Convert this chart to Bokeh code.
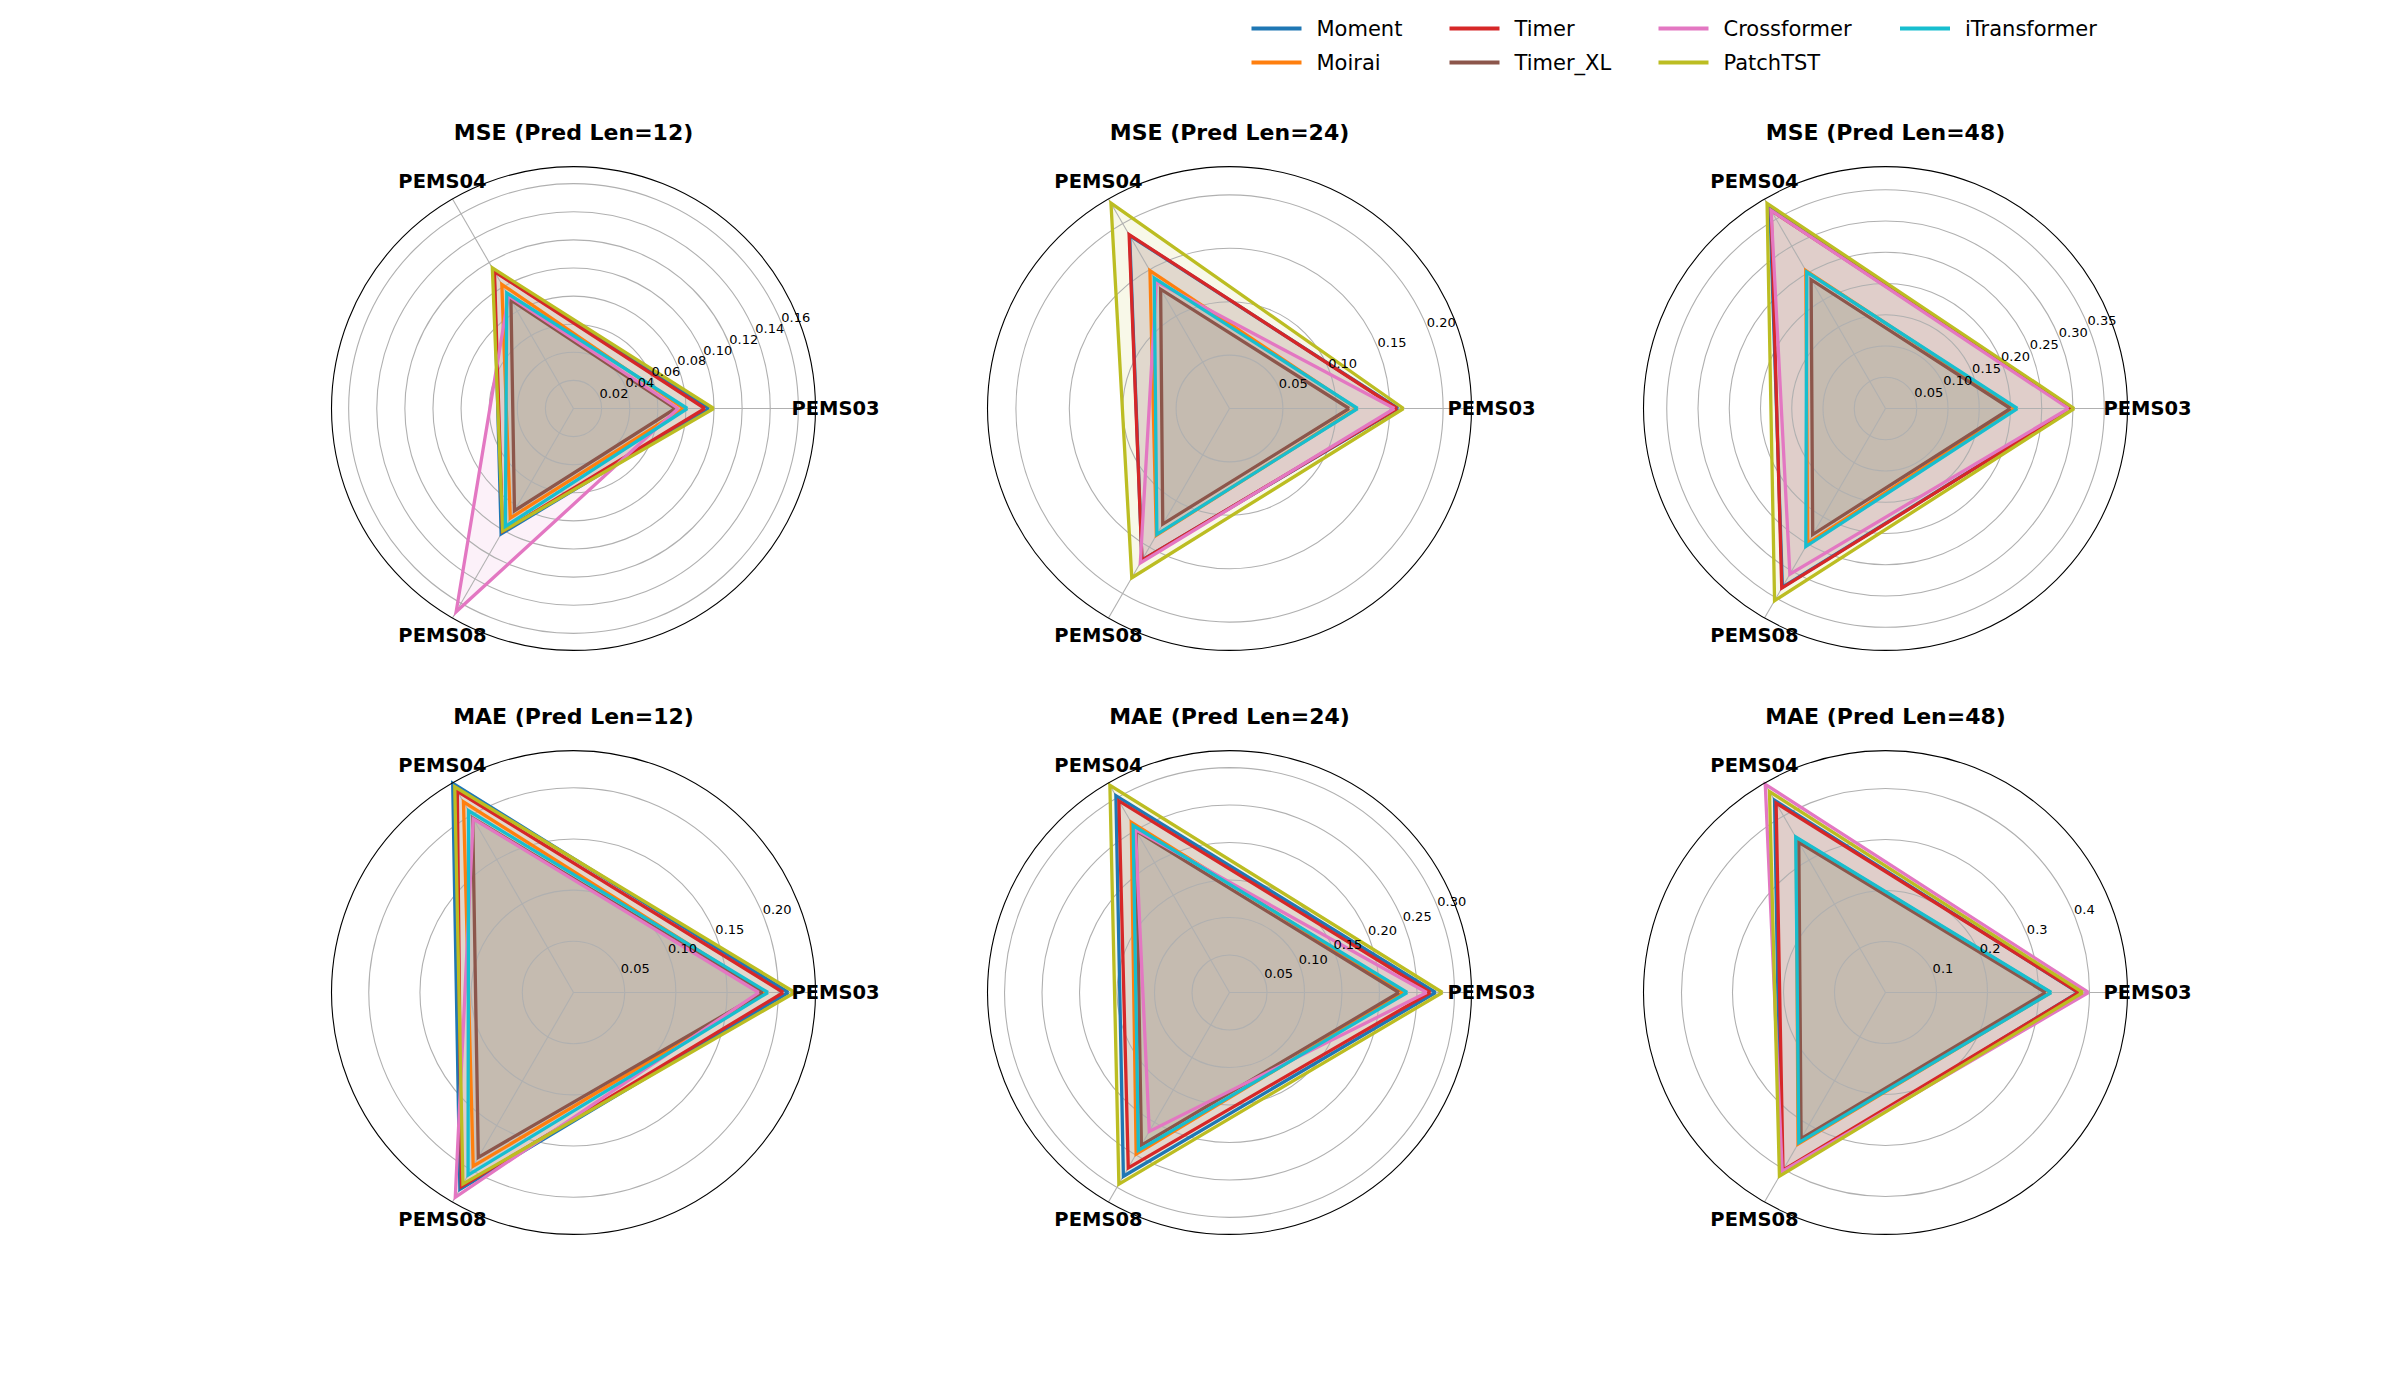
import numpy as np
from bokeh.plotting import figure
from bokeh.models import Range1d, Spacer
from bokeh.layouts import column, row
from bokeh.embed import file_html
from bokeh.resources import INLINE
from bokeh.core.properties import value

# ---------------- data ----------------
datasets = ["PEMS03", "PEMS04", "PEMS08"]
models = ["Moment", "Moirai", "Timer", "Timer_XL", "Crossformer", "PatchTST", "iTransformer"]
colors = ["#1f77b4", "#ff7f0e", "#d62728", "#8c564b", "#e377c2", "#bcbd22", "#17becf"]

# each row: one model (order as `models`), values for PEMS03, PEMS04, PEMS08
mse_12 = [
    [0.0965, 0.113, 0.103],
    [0.0785, 0.102, 0.090],
    [0.0935, 0.1125, 0.101],
    [0.0725, 0.089, 0.084],
    [0.0745, 0.0925, 0.167],
    [0.0998, 0.1155, 0.1007],
    [0.0810, 0.095, 0.097],
]
mse_24 = [
    [0.158, 0.187, 0.164],
    [0.119, 0.149, 0.137],
    [0.157, 0.188, 0.164],
    [0.112, 0.129, 0.125],
    [0.1545, 0.137, 0.167],
    [0.163, 0.222, 0.183],
    [0.120, 0.141, 0.136],
]
mse_48 = [
    [0.297, 0.370, 0.330],
    [0.207, 0.255, 0.249],
    [0.297, 0.366, 0.332],
    [0.200, 0.238, 0.233],
    [0.293, 0.366, 0.306],
    [0.302, 0.379, 0.355],
    [0.211, 0.252, 0.255],
]
mae_12 = [
    [0.210, 0.236, 0.222],
    [0.187, 0.215, 0.196],
    [0.205, 0.227, 0.219],
    [0.185, 0.197, 0.186],
    [0.181, 0.196, 0.231],
    [0.2163, 0.232, 0.216],
    [0.190, 0.205, 0.206],
]
mae_24 = [
    [0.275, 0.303, 0.283],
    [0.232, 0.262, 0.249],
    [0.268, 0.295, 0.270],
    [0.226, 0.249, 0.235],
    [0.263, 0.251, 0.214],
    [0.284, 0.319, 0.295],
    [0.237, 0.257, 0.243],
]
mae_48 = [
    [0.378, 0.435, 0.410],
    [0.324, 0.350, 0.343],
    [0.379, 0.429, 0.402],
    [0.314, 0.340, 0.331],
    [0.398, 0.4715, 0.405],
    [0.387, 0.455, 0.416],
    [0.325, 0.352, 0.340],
]

panel_titles = ["MSE (Pred Len=12)", "MSE (Pred Len=24)", "MSE (Pred Len=48)",
                "MAE (Pred Len=12)", "MAE (Pred Len=24)", "MAE (Pred Len=48)"]
panel_data = [mse_12, mse_24, mse_48, mae_12, mae_24, mae_48]
r_limits = [0.1722, 0.2266, 0.3872, 0.2364, 0.3227, 0.4745]
r_ticks = [
    [0.02, 0.04, 0.06, 0.08, 0.10, 0.12, 0.14, 0.16],
    [0.05, 0.10, 0.15, 0.20],
    [0.05, 0.10, 0.15, 0.20, 0.25, 0.30, 0.35],
    [0.05, 0.10, 0.15, 0.20],
    [0.05, 0.10, 0.15, 0.20, 0.25, 0.30],
    [0.1, 0.2, 0.3, 0.4],
]
r_tick_labels = [
    ["0.02", "0.04", "0.06", "0.08", "0.10", "0.12", "0.14", "0.16"],
    ["0.05", "0.10", "0.15", "0.20"],
    ["0.05", "0.10", "0.15", "0.20", "0.25", "0.30", "0.35"],
    ["0.05", "0.10", "0.15", "0.20"],
    ["0.05", "0.10", "0.15", "0.20", "0.25", "0.30"],
    ["0.1", "0.2", "0.3", "0.4"],
]

# ---------------- layout constants ----------------
FONT = "DejaVu Sans"
PW, PH = 656, 584      # panel figure size (px)
CY = 301.0             # px from figure top to polar centre
R = 242.0              # outer radius (px)
LEFT_PAD = 245
LEG_H = 107
GRID_COLOR = "#b0b0b0"


def make_panel(title, vals, rmax, ticks, tick_labels):
    s = rmax / R
    p = figure(width=PW, height=PH,
               x_range=Range1d(-PW / 2 * s, PW / 2 * s),
               y_range=Range1d(-(PH - CY) * s, CY * s),
               output_backend="svg", toolbar_location=None, min_border=0)
    p.axis.visible = False
    p.grid.visible = False
    p.outline_line_color = None
    p.background_fill_color = None
    p.border_fill_color = None

    ang = np.linspace(0, 2 * np.pi, len(datasets), endpoint=False)
    cos, sin = np.cos(ang), np.sin(ang)

    # fills
    for c, v in zip(colors, vals):
        v = np.asarray(v)
        p.patch(v * cos, v * sin, fill_color=c, fill_alpha=0.1, line_color=None)

    # grid circles and spokes
    p.circle(x=[0.0] * len(ticks), y=[0.0] * len(ticks), radius=ticks,
             fill_color=None, line_color=GRID_COLOR, line_width=1.1)
    p.segment(x0=[0.0] * len(ang), y0=[0.0] * len(ang), x1=rmax * cos, y1=rmax * sin,
              line_color=GRID_COLOR, line_width=1.1)

    # series lines
    for c, v in zip(colors, vals):
        v = np.asarray(v)
        xs = np.append(v * cos, v[0] * cos[0])
        ys = np.append(v * sin, v[0] * sin[0])
        p.line(xs, ys, line_color=c, line_width=3.3, line_join="miter")

    # outer spine
    p.circle(x=[0.0], y=[0.0], radius=[rmax], fill_color=None,
             line_color="black", line_width=1.1)

    # category labels
    p.text(x=1.083 * rmax * cos, y=1.083 * rmax * sin, text=datasets,
           text_font=value(FONT), text_font_style="bold", text_font_size="19.5px",
           text_align="center", text_baseline="middle", text_color="black")

    # radial tick labels
    a = np.deg2rad(22.5)
    t = np.asarray(ticks)
    p.text(x=t * np.cos(a), y=t * np.sin(a), text=tick_labels,
           text_font=value(FONT), text_font_size="13px",
           text_align="left", text_baseline="bottom", text_color="black")

    # title
    p.text(x=[0.0], y=[1.14 * rmax], text=[title],
           text_font=value(FONT), text_font_style="bold", text_font_size="22px",
           text_align="center", text_baseline="middle", text_color="black")
    return p


panels = [make_panel(t, d, r, tk, tl) for t, d, r, tk, tl in
          zip(panel_titles, panel_data, r_limits, r_ticks, r_tick_labels)]

# ---------------- legend ----------------
LW = 2384
leg = figure(width=LW, height=LEG_H, x_range=Range1d(0, LW), y_range=Range1d(LEG_H, 0),
             output_backend="svg", toolbar_location=None, min_border=0)
leg.axis.visible = False
leg.grid.visible = False
leg.outline_line_color = None

col_x = [1251, 1449, 1658, 1899.5]
row_y = [28, 62]
lx0, lx1, ty, tx, tc = [], [], [], [], []
for i, (m, c) in enumerate(zip(models, colors)):
    x = col_x[i // 2]
    y = row_y[i % 2]
    lx0.append(x)
    lx1.append(x + 50)
    ty.append(y)
    tx.append(x + 65)
    tc.append(c)
leg.segment(x0=lx0, y0=ty, x1=lx1, y1=ty, line_color=tc, line_width=4.2)
leg.text(x=tx, y=ty, text=models, text_font=value(FONT), text_font_size="21px",
         text_align="left", text_baseline="middle", text_color="black")

layout = column(
    leg,
    row(Spacer(width=LEFT_PAD, height=PH), panels[0], panels[1], panels[2]),
    row(Spacer(width=LEFT_PAD, height=PH), panels[3], panels[4], panels[5]),
)

open("out.html", "w").write(file_html(layout, INLINE))
